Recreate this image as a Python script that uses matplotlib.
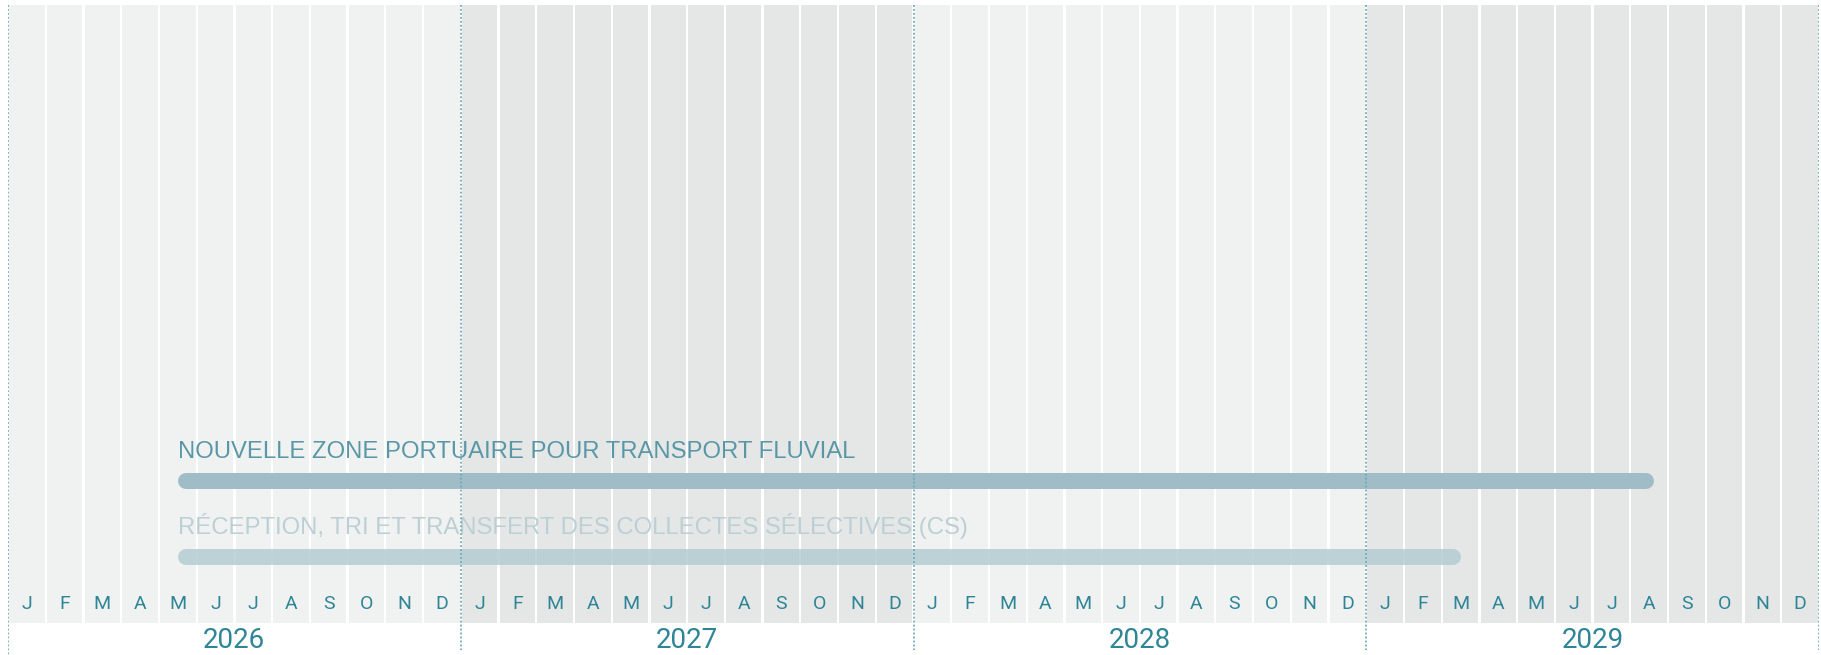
import matplotlib.pyplot as plt
import numpy as np

# timeline
years = [2026, 2027, 2028, 2029]
month_letters = ["J", "F", "M", "A", "M", "J", "J", "A", "S", "O", "N", "D"]

# tasks (start / end dates)
task_names = [
    "NOUVELLE ZONE PORTUAIRE POUR TRANSPORT FLUVIAL",
    "RÉCEPTION, TRI ET TRANSFERT DES COLLECTES SÉLECTIVES (CS)",
]
task_starts = ["2026-05-16", "2026-05-16"]
task_ends = ["2029-08-20", "2029-03-16"]
task_bar_colors = ["#a0bcc7", "#b3cdd3"]
task_bar_alpha = [1.0, 0.85]
task_text_colors = ["#5a97a6", "#bccfd5"]


def month_index(s):
    y, m, d = (int(p) for p in s.split("-"))
    return (y - years[0]) * 12 + (m - 1) + (d - 1) / 30.0


W, H = 1821, 655
fig = plt.figure(figsize=(W / 100, H / 100), dpi=100)
ax = fig.add_axes([8 / W, 0, 1811 / W, 1])
n_months = len(years) * 12
ax.set_xlim(0, n_months)
ax.set_ylim(H, 0)
ax.axis("off")

cell_top, cell_bot = 5, 623
light_bg, dark_bg = "#f0f2f1", "#e5e7e6"
teal = "#2e8596"

# month columns
idx = np.arange(n_months)
cols = [light_bg if (i // 12) % 2 == 0 else dark_bg for i in idx]
ax.bar(idx + 0.5, cell_bot - cell_top, bottom=cell_top, width=0.94,
       color=cols, linewidth=0, zorder=1)

for i in idx:
    ax.text(i + 0.5, 604, month_letters[i % 12], ha="center", va="center",
            fontsize=14, color=teal, family="Roboto", zorder=5)

for k, yr in enumerate(years):
    ax.text(k * 12 + 6, 640, str(yr), ha="center", va="center",
            fontsize=20, color=teal, family="Roboto", zorder=5)

# task bars
row_y0, row_step = 481, 76
lw_px = 16
cap = (lw_px / 2) / (1811 / n_months)
for r, name in enumerate(task_names):
    y = row_y0 + r * row_step
    s = month_index(task_starts[r])
    e = month_index(task_ends[r])
    ax.plot([s + cap, e - cap], [y, y], color=task_bar_colors[r],
            alpha=task_bar_alpha[r], linewidth=lw_px * 0.72,
            solid_capstyle="round", zorder=3)
    ax.text(s, y - 23, name, ha="left", va="baseline", fontsize=17.2,
            color=task_text_colors[r], family="Liberation Sans", zorder=4)

# year separators
for k in range(len(years) + 1):
    bottom = H if k == 0 else 650
    ax.plot([k * 12, k * 12], [cell_top, bottom], color="#6fa9b9",
            linewidth=1.3, linestyle=(0, (1, 1.2)), zorder=6)

fig.savefig("out.png", dpi=100)
